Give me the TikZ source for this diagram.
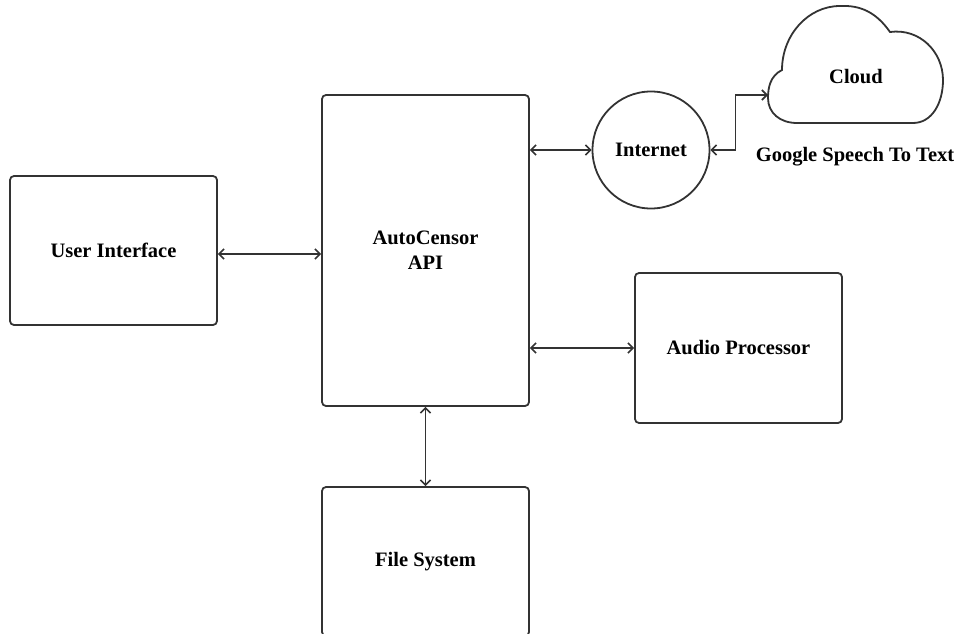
\documentclass[tikz,border=0pt]{standalone}
\usepackage{fontspec}
\setmainfont{Liberation Serif}
\usetikzlibrary{arrows.meta}
\definecolor{lc}{HTML}{333333}
\tikzset{
  box/.style={draw=lc, line width=1.8pt, rounded corners=4pt, minimum width=207pt, inner sep=0pt, align=center, font=\fontsize{20.5}{25}\selectfont\bfseries},
  conn/.style={draw=lc, line width=1.6pt, {Straight Barb[length=5pt,width=10pt]}-{Straight Barb[length=5pt,width=10pt]}},
  lbl/.style={font=\fontsize{20.5}{25}\selectfont\bfseries, inner sep=0pt}
}
\begin{document}
\begin{tikzpicture}[x=1pt,y=-1pt]
\useasboundingbox (0,0) rectangle (959,634);
\clip (0,0) rectangle (959,634);
\node[box, minimum height=149pt] (ui) at (113.5,250.5) {User Interface};
\node[box, minimum height=311pt] (api) at (425.5,250.5) {AutoCensor\\API};
\node[box, minimum height=150pt] (audio) at (738.5,348) {Audio Processor};
\node[box, minimum height=149pt] (file) at (425.5,561.5) {File System};
\node[draw=lc, line width=1.8pt, circle, minimum size=117pt, inner sep=0pt, lbl] (inet) at (651,150) {Internet};
% cloud
\draw[lc, line width=1.8pt, fill=white]
  (797,123) -- (913,123)
  .. controls (932,123) and (943,103) .. (943,80)
  .. controls (943,52) and (920,28) .. (890,32)
  .. controls (876,12) and (860,5) .. (840,6)
  .. controls (808,6) and (782,35) .. (782,70)
  .. controls (770,76) and (768,88) .. (768,98)
  .. controls (768,113) and (780,123) .. (797,123) -- cycle;
\node[lbl] (cloud) at (856,77) {Cloud};
\coordinate (cw) at (768,95);
\node[lbl] (gst) at (855,157) {Google Speech To Text};
% connectors
\draw[conn] (ui.east |- 0,254) -- (api.west |- 0,254);
\draw[conn] (api.east |- inet) -- (inet.west);
\draw[conn] (api.east |- audio) -- (audio.west);
\draw[conn] (api.south) -- (file.north);
\draw[conn] (inet.east) -- ++(25,0) |- (cw);
\end{tikzpicture}
\end{document}
